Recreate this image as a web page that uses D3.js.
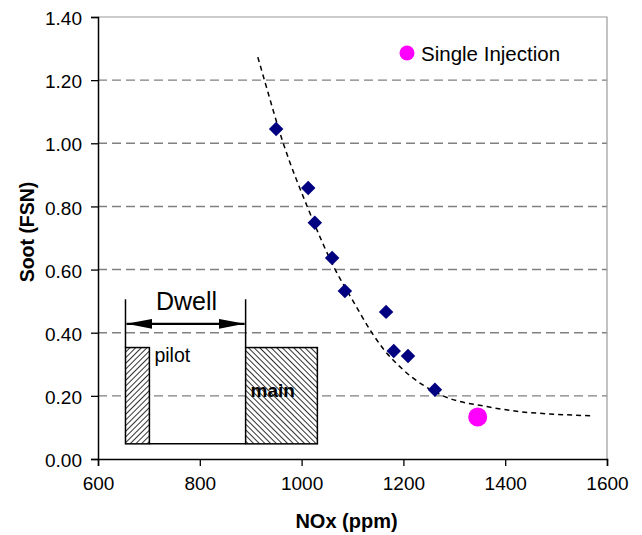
<!DOCTYPE html>
<html>
<head>
<meta charset="utf-8">
<script src="https://cdn.jsdelivr.net/npm/d3@7"></script>
<style>
  body { margin: 0; background: #fff; }
  svg text { font-family: "Liberation Sans", Arial, sans-serif; }
</style>
</head>
<body>
<svg id="chart" width="642" height="535"></svg>
<script>
// measured points (NOx ppm, soot FSN)
var noxDouble = [950, 1013, 1026, 1060, 1085, 1166, 1181, 1209, 1262];
var sootDouble = [1.045, 0.858, 0.748, 0.637, 0.532, 0.466, 0.342, 0.326, 0.219];
var noxSingle = [1346];
var sootSingle = [0.133];

// trend line
var trendNox = [914, 927, 964, 1011, 1066, 1102, 1138, 1160, 1200, 1278, 1364, 1429, 1495, 1570];
var trendSoot = [1.273, 1.20, 1.00, 0.80, 0.60, 0.498, 0.40, 0.35, 0.282, 0.20, 0.166, 0.150, 0.142, 0.137];

var xTicks = [600, 800, 1000, 1200, 1400, 1600];
var yTicks = [0, 0.2, 0.4, 0.6, 0.8, 1.0, 1.2, 1.4];

var margin = {top: 17, left: 98},
  width = 509,
  height = 442;

var svg = d3.select('#chart');
var defs = svg.append('defs');

function hatch(id, angle) {
  var p = defs.append('pattern')
    .attr('id', id)
    .attr('patternUnits', 'userSpaceOnUse')
    .attr('width', 4)
    .attr('height', 4)
    .attr('patternTransform', 'rotate(' + angle + ')');
  p.append('rect').attr('width', 4).attr('height', 4).attr('fill', '#fff');
  p.append('line')
    .attr('x1', 0).attr('y1', 0).attr('x2', 0).attr('y2', 4)
    .attr('stroke', '#333').attr('stroke-width', 2);
}
hatch('hatchPilot', 45);
hatch('hatchMain', -45);

defs.append('marker')
  .attr('id', 'arrowHead')
  .attr('viewBox', '0 0 26 10')
  .attr('refX', 26).attr('refY', 5)
  .attr('markerUnits', 'userSpaceOnUse')
  .attr('markerWidth', 26).attr('markerHeight', 10)
  .attr('orient', 'auto-start-reverse')
  .append('path').attr('d', 'M0,0L26,5L0,10Z').attr('fill', '#000');

var g = svg.append('g')
  .attr('transform', 'translate(' + margin.left + ',' + margin.top + ')');

var x = d3.scaleLinear().domain([600, 1600]).range([0, width]);
var y = d3.scaleLinear().domain([0, 1.4]).range([height, 0]);

// gridlines
g.append('g').selectAll('line')
  .data(yTicks.filter(function(d) { return d > 0 && d < 1.4; }))
  .join('line')
  .attr('x1', 0).attr('x2', width)
  .attr('y1', function(d) { return y(d); })
  .attr('y2', function(d) { return y(d); })
  .attr('stroke', '#808080')
  .attr('stroke-width', 1.4)
  .attr('stroke-dasharray', '9,5');

// frame top/right
g.append('path')
  .attr('d', 'M0,0H' + width + 'V' + height)
  .attr('fill', 'none')
  .attr('stroke', '#999')
  .attr('stroke-width', 1.2);

// axes
var xAxis = g.append('g')
  .attr('transform', 'translate(0,' + height + ')')
  .call(d3.axisBottom(x).tickValues(xTicks).tickFormat(d3.format('d')).tickSizeOuter(0).tickSize(7).tickPadding(10));
var yAxis = g.append('g')
  .call(d3.axisLeft(y).tickValues(yTicks).tickFormat(d3.format('.2f')).tickSizeOuter(0).tickSize(7).tickPadding(9));

[xAxis, yAxis].forEach(function(a) {
  a.select('.domain').attr('stroke', '#000').attr('stroke-width', 1.5);
  a.selectAll('.tick line').attr('stroke', '#000').attr('stroke-width', 1.3);
  a.selectAll('.tick text')
    .attr('fill', '#000')
    .style('font-size', '19px')
    .style('font-family', '"Liberation Sans", Arial, sans-serif');
});
xAxis.selectAll('.tick text').attr('dy', '0.75em');
yAxis.selectAll('.tick text').attr('dy', '0.4em');

// axis titles
svg.append('text')
  .attr('x', margin.left + width / 2 - 6)
  .attr('y', 528)
  .attr('text-anchor', 'middle')
  .style('font-size', '20px')
  .style('font-weight', 'bold')
  .text('NOx (ppm)');

svg.append('text')
  .attr('transform', 'translate(34,232) rotate(-90)')
  .attr('text-anchor', 'middle')
  .style('font-size', '19.5px')
  .style('font-weight', 'bold')
  .text('Soot (FSN)');

// inset injection diagram (in data units)
var pilotL = 654, pilotR = 701, mainL = 890, mainR = 1031;
var boxTop = 0.353, boxBot = 0.048, tickTop = 0.506, arrowY = 0.428;
var inset = g.append('g');

inset.append('rect')
  .attr('x', x(pilotL)).attr('y', y(boxTop))
  .attr('width', x(pilotR) - x(pilotL)).attr('height', y(boxBot) - y(boxTop))
  .attr('fill', 'url(#hatchPilot)').attr('stroke', '#000').attr('stroke-width', 1.5);
inset.append('rect')
  .attr('x', x(mainL)).attr('y', y(boxTop))
  .attr('width', x(mainR) - x(mainL)).attr('height', y(boxBot) - y(boxTop))
  .attr('fill', 'url(#hatchMain)').attr('stroke', '#000').attr('stroke-width', 1.5);
inset.append('line')
  .attr('x1', x(pilotR)).attr('x2', x(mainL))
  .attr('y1', y(boxBot)).attr('y2', y(boxBot))
  .attr('stroke', '#000').attr('stroke-width', 1.5);
[pilotL, mainL].forEach(function(v) {
  inset.append('line')
    .attr('x1', x(v)).attr('x2', x(v))
    .attr('y1', y(tickTop)).attr('y2', y(boxTop))
    .attr('stroke', '#000').attr('stroke-width', 1.5);
});
inset.append('line')
  .attr('x1', x(pilotL) + 1).attr('x2', x(mainL) - 1)
  .attr('y1', y(arrowY)).attr('y2', y(arrowY))
  .attr('stroke', '#000').attr('stroke-width', 2.2)
  .attr('marker-start', 'url(#arrowHead)')
  .attr('marker-end', 'url(#arrowHead)');
inset.append('text')
  .attr('x', (x(pilotL) + x(mainL)) / 2 + 1)
  .attr('y', y(arrowY) - 14)
  .attr('text-anchor', 'middle')
  .style('font-size', '25px')
  .text('Dwell');
inset.append('text')
  .attr('x', x(pilotR) + 5)
  .attr('y', y(boxTop) + 14)
  .style('font-size', '19.5px')
  .text('pilot');
inset.append('text')
  .attr('x', x(mainL) + 5)
  .attr('y', y(0.22) + 7)
  .style('font-size', '19px')
  .style('font-weight', 'bold')
  .text('main');

// trend line
var trend = trendNox.map(function(d, i) { return [d, trendSoot[i]]; });
g.append('path')
  .datum(trend)
  .attr('d', d3.line()
    .x(function(d) { return x(d[0]); })
    .y(function(d) { return y(d[1]); })
    .curve(d3.curveMonotoneX))
  .attr('fill', 'none')
  .attr('stroke', '#000')
  .attr('stroke-width', 1.5)
  .attr('stroke-dasharray', '5,4');

// double injection diamonds
var diamond = d3.symbol().type(d3.symbolSquare).size(105);
g.append('g').selectAll('path')
  .data(noxDouble)
  .join('path')
  .attr('d', diamond)
  .attr('transform', function(d, i) {
    return 'translate(' + x(d) + ',' + y(sootDouble[i]) + ') rotate(45)';
  })
  .attr('fill', '#000080');

// single injection
g.append('g').selectAll('circle')
  .data(noxSingle)
  .join('circle')
  .attr('cx', function(d) { return x(d); })
  .attr('cy', function(d, i) { return y(sootSingle[i]); })
  .attr('r', 9.5)
  .attr('fill', '#ff00ff');

// legend
var legend = svg.append('g').attr('transform', 'translate(407,53)');
legend.append('circle').attr('r', 7.5).attr('fill', '#ff00ff');
legend.append('text')
  .attr('x', 14).attr('y', 8)
  .style('font-size', '20.5px')
  .text('Single Injection');
</script>
</body>
</html>
